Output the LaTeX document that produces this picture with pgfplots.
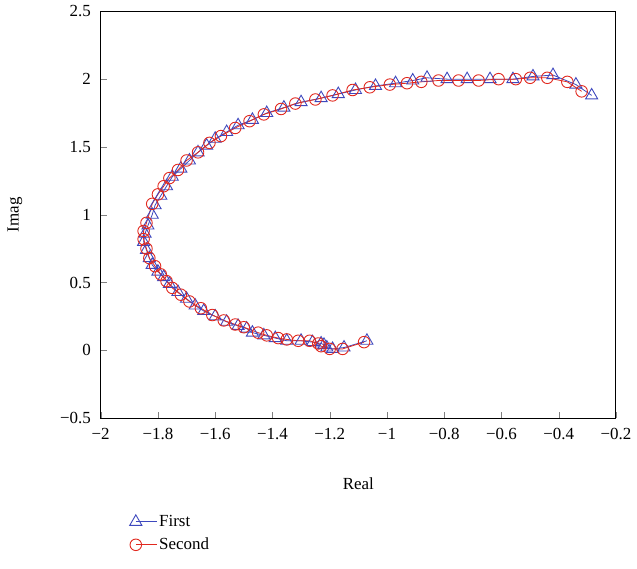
\documentclass[border=0pt]{standalone}
\usepackage{pgfplots}
\pgfplotsset{compat=1.18}
\usepackage{fontspec}
\setmainfont{Liberation Serif}
\definecolor{cblue}{RGB}{62,72,190}
\definecolor{cred}{RGB}{225,40,30}
\begin{document}
\fontsize{17}{20}\selectfont
\begin{tikzpicture}
\begin{axis}[
  scale only axis,
  width=517pt, height=408pt,
  xmin=-2, xmax=-0.2, ymin=-0.5, ymax=2.5,
  xtick={-2,-1.8,-1.6,-1.4,-1.2,-1,-0.8,-0.6,-0.4,-0.2},
  xticklabels={−2,−1.8,−1.6,−1.4,−1.2,−1,−0.8,−0.6,−0.4,−0.2},
  ytick={-0.5,0,0.5,1,1.5,2,2.5},
  yticklabels={−0.5,0,0.5,1,1.5,2,2.5},
  xtick pos=left, ytick pos=left,
  tick align=inside,
  major tick length=6pt,
  axis line style={line width=1pt},
  /pgf/number format/assume math mode=true,
  tick label style={font=\fontsize{17}{20}\selectfont},
  label style={font=\fontsize{17}{20}\selectfont},
  xticklabel style={yshift=-4pt},
  yticklabel style={xshift=-4pt},
  xlabel={Real}, ylabel={Imag},
  xlabel style={at={([yshift=-66pt]axis description cs:0.5,0)}, anchor=center},
  ylabel style={at={([xshift=-86pt]axis description cs:0,0.5)}, anchor=center},
  legend style={at={([xshift=29pt,yshift=-95pt]axis description cs:0,0)}, anchor=north west, draw=none,
    font=\fontsize{17}{20}\selectfont, row sep=5pt, inner sep=0pt},
  legend cell align=left,
  legend image code/.code={\draw[mark repeat=2, mark phase=1, #1] plot coordinates {(0pt,0pt) (21pt,0pt)};},
]
\coordinate (sw) at (rel axis cs:0,0);
\coordinate (ne) at (rel axis cs:1,1);
\addplot[cblue, line width=0.8pt, mark=triangle, mark size=7pt, mark options={solid, line width=0.9pt}] coordinates {
(-1.07,0.07) (-1.15,0.02) (-1.19,0.01) (-1.21,0.02) (-1.22,0.04) (-1.23,0.05)
(-1.26,0.06) (-1.30,0.07) (-1.35,0.07) (-1.39,0.09) (-1.43,0.11) (-1.47,0.13)
(-1.49,0.16) (-1.52,0.18) (-1.56,0.21) (-1.60,0.25) (-1.64,0.29) (-1.67,0.33)
(-1.70,0.38) (-1.73,0.43) (-1.76,0.49) (-1.78,0.54) (-1.80,0.58) (-1.82,0.63)
(-1.83,0.68) (-1.84,0.74) (-1.85,0.80) (-1.845,0.86) (-1.835,0.92) (-1.82,1.00)
(-1.81,1.07) (-1.79,1.14) (-1.77,1.21) (-1.75,1.28) (-1.72,1.34) (-1.69,1.40)
(-1.66,1.46) (-1.63,1.51) (-1.60,1.56) (-1.56,1.61) (-1.52,1.66) (-1.47,1.70)
(-1.42,1.75) (-1.36,1.79) (-1.30,1.83) (-1.23,1.86) (-1.17,1.89) (-1.11,1.92)
(-1.04,1.95) (-0.97,1.97) (-0.91,1.99) (-0.86,2.01) (-0.79,2.00) (-0.72,2.00)
(-0.64,2.00) (-0.56,2.00) (-0.49,2.02) (-0.42,2.03) (-0.34,1.96) (-0.285,1.88)
};
\addlegendentry{First}
\addplot[cred, line width=0.8pt, mark=o, mark size=5.8pt, mark options={solid, line width=0.9pt}] coordinates {
(-1.08,0.06) (-1.155,0.01) (-1.20,0.01) (-1.23,0.03) (-1.24,0.05) (-1.27,0.07)
(-1.31,0.07) (-1.35,0.08) (-1.38,0.09) (-1.42,0.11) (-1.45,0.13) (-1.50,0.17)
(-1.53,0.19) (-1.57,0.22) (-1.61,0.26) (-1.65,0.31) (-1.69,0.36) (-1.72,0.41)
(-1.75,0.46) (-1.77,0.51) (-1.79,0.56) (-1.81,0.62) (-1.83,0.68) (-1.84,0.75)
(-1.85,0.82) (-1.85,0.88) (-1.84,0.94) (-1.82,1.08) (-1.80,1.15) (-1.78,1.21)
(-1.76,1.27) (-1.73,1.33) (-1.70,1.40) (-1.66,1.46) (-1.62,1.53) (-1.58,1.58)
(-1.53,1.64) (-1.48,1.69) (-1.43,1.74) (-1.37,1.78) (-1.32,1.82) (-1.25,1.85)
(-1.19,1.88) (-1.12,1.92) (-1.06,1.94) (-0.99,1.96) (-0.93,1.97) (-0.88,1.98)
(-0.82,1.99) (-0.75,1.99) (-0.68,1.99) (-0.61,2.00) (-0.55,2.00) (-0.50,2.01)
(-0.44,2.01) (-0.37,1.98) (-0.32,1.91)
};
\addlegendentry{Second}
\end{axis}
\path ([shift={(-101pt,-151pt)}]sw) rectangle ([shift={(19pt,10pt)}]ne);
\end{tikzpicture}
\end{document}
